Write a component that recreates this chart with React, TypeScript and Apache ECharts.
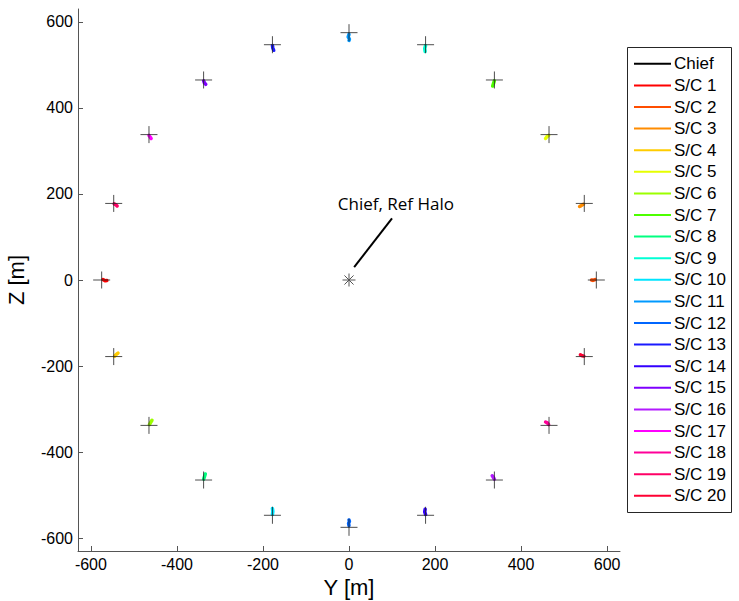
import React, { useEffect, useRef } from "react";
import * as echarts from "echarts";

// Tick values shared by both axes
const yTicks = [-600, -400, -200, 0, 200, 400, 600];
const zTicks = [-600, -400, -200, 0, 200, 400, 600];

const chiefName = "Chief";
const chiefPos = [0, 0];

const scNames = [
  "S/C 1", "S/C 2", "S/C 3", "S/C 4", "S/C 5", "S/C 6", "S/C 7", "S/C 8", "S/C 9", "S/C 10",
  "S/C 11", "S/C 12", "S/C 13", "S/C 14", "S/C 15", "S/C 16", "S/C 17", "S/C 18", "S/C 19", "S/C 20",
];

const scColors = [
  "#ff0000", "#ff4d00", "#ff8c00", "#ffcc00", "#e6ff00", "#9cff00", "#4dff00", "#00ff80", "#00ffd5", "#00e5ff",
  "#0099ff", "#0066ff", "#1a1aff", "#3300ff", "#7f00ff", "#b31aff", "#ff00ff", "#ff0099", "#ff0066", "#ff0033",
];

// Halo slot positions (Y, Z) in metres
const slotY = [575, 547, 465, 338, 178, 0, -178, -338, -465, -547, -575, -547, -465, -338, -178, 0, 178, 338, 465, 547];
const slotZ = [0, 178, 338, 465, 547, 575, 547, 465, 338, 178, 0, -178, -338, -465, -547, -575, -547, -465, -338, -178];

// Relative trajectories of each deputy, [Y, Z] in metres
const scTracks: number[][][] = [
  [[-572, 1], [-567, -2], [-563, -1]],
  [[572, 1], [567, -1], [564, 0]],
  [[545, 176], [540, 173], [536, 171]],
  [[-545, -177], [-541, -173], [-537, -170]],
  [[464, 336], [460, 333], [457, 329]],
  [[-464, -336], [-461, -331], [-458, -326]],
  [[338, 463], [336, 457], [334, 451]],
  [[-338, -463], [-336, -457], [-334, -451]],
  [[178, 545], [176, 538], [177, 531]],
  [[-178, -545], [-177, -538], [-178, -531]],
  [[0, 571], [-2, 565], [1, 560], [0, 557]],
  [[0, -571], [-1, -566], [1, -561], [0, -558]],
  [[-178, 545], [-177, 539], [-175, 534]],
  [[178, -545], [176, -539], [177, -533]],
  [[-338, 463], [-336, 458], [-333, 455]],
  [[338, -463], [335, -458], [333, -455]],
  [[-465, 336], [-462, 332], [-460, 329]],
  [[464, -336], [461, -332], [457, -330]],
  [[-546, 177], [-542, 175], [-539, 172]],
  [[546, -177], [542, -176], [538, -174]],
];

// Callout for the chief / reference halo centre
const calloutLabel = "Chief, Ref Halo";
const calloutFrom = [12, 30];
const calloutTo = [100, 143];
const calloutTextAt = [109, 178];

const axisFont = "'Liberation Sans', Arial, sans-serif";
const crossSymbol = "path://M0,8.5H17M8.5,0V17";
const asteriskSymbol = "path://M0,6H12M6,0V12M1.8,1.8L10.2,10.2M1.8,10.2L10.2,1.8";

export default function App() {
  const ref = useRef<HTMLDivElement>(null);

  useEffect(() => {
    if (!ref.current) return;
    const chart = echarts.init(ref.current, undefined, { renderer: "svg" });

    const axisCommon = {
      type: "value" as const,
      min: -630,
      max: 630,
      nameLocation: "middle" as const,
      nameTextStyle: { fontFamily: axisFont, fontSize: 22, color: "#000" },
      axisLine: { show: true, onZero: false, lineStyle: { color: "#555", width: 1 } },
      axisTick: { show: true, inside: true, length: 5, lineStyle: { color: "#555" } },
      splitLine: { show: false },
    };

    const series: any[] = [
      {
        name: chiefName,
        type: "line",
        data: [chiefPos],
        symbol: asteriskSymbol,
        symbolSize: 13,
        showSymbol: true,
        itemStyle: { color: "#000", borderColor: "#555", borderWidth: 1 },
        lineStyle: { color: "#000", width: 2 },
        z: 3,
      },
      ...scNames.map((name, i) => ({
        name,
        type: "line",
        data: scTracks[i],
        showSymbol: false,
        color: scColors[i],
        lineStyle: { width: 3.5, color: scColors[i], cap: "round", join: "round" },
        z: 3,
      })),
      {
        name: "slots",
        type: "scatter",
        data: slotY.map((y, i) => [y, slotZ[i]]),
        symbol: crossSymbol,
        symbolSize: 17,
        itemStyle: { color: "none", borderColor: "#222", borderWidth: 1 },
        z: 4,
      },
    ];

    chart.setOption({
      animation: false,
      grid: {
        left: 78,
        right: 119,
        top: 9,
        bottom: 50,
        containLabel: false,
        outerBoundsMode: "none",
      },
      xAxis: {
        ...axisCommon,
        name: "Y [m]",
        nameGap: 23,
        axisLabel: {
          customValues: yTicks,
          fontFamily: axisFont,
          fontSize: 16,
          color: "#000",
          margin: 5,
        },
        axisTick: { ...axisCommon.axisTick, customValues: yTicks },
      },
      yAxis: {
        ...axisCommon,
        name: "Z [m]",
        nameGap: 51,
        nameRotate: 90,
        axisLabel: {
          customValues: zTicks,
          fontFamily: axisFont,
          fontSize: 16,
          color: "#000",
          margin: 5,
        },
        axisTick: { ...axisCommon.axisTick, customValues: zTicks },
      },
      legend: {
        orient: "vertical",
        left: 634,
        top: 53,
        padding: 0,
        itemGap: 0,
        itemWidth: 37,
        itemHeight: 2,
        icon: "rect",
        itemStyle: { borderWidth: 0 },
        data: [chiefName, ...scNames],
        textStyle: {
          fontFamily: axisFont,
          fontSize: 17,
          color: "#000",
          lineHeight: 21.6,
          padding: [0, 0, 0, -2],
        },
        selectedMode: false,
      },
      series,
    });

    const a = chart.convertToPixel({ gridIndex: 0 }, calloutFrom);
    const b = chart.convertToPixel({ gridIndex: 0 }, calloutTo);
    const t = chart.convertToPixel({ gridIndex: 0 }, calloutTextAt);

    chart.setOption({
      graphic: [
        {
          type: "rect",
          shape: { x: 627.5, y: 47.5, width: 104, height: 465 },
          style: { fill: "#fff", stroke: "#262626", lineWidth: 1 },
          z: 0,
        },
        {
          type: "line",
          shape: { x1: a[0], y1: a[1], x2: b[0], y2: b[1] },
          style: { stroke: "#000", lineWidth: 2 },
          z: 5,
        },
        {
          type: "text",
          x: t[0],
          y: t[1],
          style: {
            text: calloutLabel,
            fontFamily: "'Open Sans', 'Noto Sans', sans-serif",
            fontSize: 17,
            fill: "#000",
            align: "center",
            verticalAlign: "middle",
          },
          z: 5,
        },
      ],
    });

    return () => chart.dispose();
  }, []);

  return (
    <div
      ref={ref}
      style={{ position: "fixed", left: 0, top: 0, width: 739, height: 601, background: "#fff" }}
    />
  );
}
